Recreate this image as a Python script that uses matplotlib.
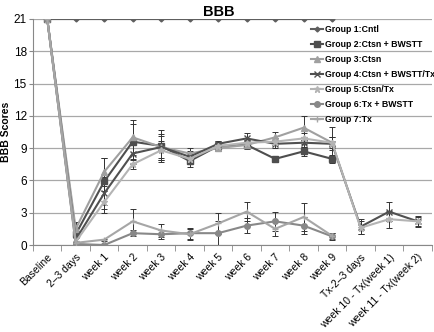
import numpy as np
import matplotlib
matplotlib.use("Agg")
import matplotlib.pyplot as plt

plt.rcParams['font.family'] = ['Liberation Sans', 'DejaVu Sans']

nan = np.nan
categories = ["Baseline", "2\u20133 days", "week 1", "week 2", "week 3", "week 4", "week 5",
              "week 6", "week 7", "week 8", "week 9", "Tx-2\u20133 days",
              "week 10 - Tx(week 1)", "week 11 - Tx(week 2)"]

g1 = [21, 21, 21, 21, 21, 21, 21, 21, 21, 21, 21, nan, nan, nan]
g2 = [21, 1.0, 5.9, 9.6, 9.2, 7.8, 9.2, 9.3, 8.0, 8.7, 8.0, nan, nan, nan]
g3 = [21, 1.5, 6.8, 10.0, 9.1, 8.5, 9.0, 9.3, 10.0, 10.9, 9.5, nan, nan, nan]
g4 = [21, 0.5, 4.8, 8.5, 9.1, 8.2, 9.4, 9.9, 9.4, 9.5, 9.4, 1.7, 3.1, 2.2]
g5 = [21, 0.3, 4.0, 7.5, 8.8, 8.0, 9.2, 9.5, 9.6, 9.9, 9.5, 1.6, 2.4, 2.2]
g6 = [21, 0.1, 0.0, 1.1, 1.0, 1.1, 1.1, 1.8, 2.2, 1.8, 0.8, nan, nan, nan]
g7 = [21, 0.2, 0.5, 2.2, 1.35, 1.0, 2.0, 3.1, 1.5, 2.6, 0.85, nan, nan, nan]

e1 = [0] * 14
e2 = [0, 0.6, 2.2, 1.6, 1.5, 0.6, 0.4, 0.3, 0.3, 0.4, 0.4, 0, 0, 0]
e3 = [0, 0.6, 1.3, 1.6, 1.2, 0.5, 0.3, 0.4, 0.5, 1.1, 0.5, 0, 0, 0]
e4 = [0, 0.5, 1.5, 1.0, 1.0, 0.5, 0.3, 0.5, 0.4, 0.4, 0.6, 0.7, 0.9, 0.5]
e5 = [0, 0.4, 1.0, 0.4, 0.9, 0.4, 0.3, 0.3, 0.3, 0.5, 1.5, 0.6, 0.8, 0.4]
e6 = [0, 0.1, 0.0, 0.3, 0.4, 0.5, 1.1, 0.7, 0.9, 0.8, 0.3, 0, 0, 0]
e7 = [0, 0.1, 0.1, 1.1, 0.6, 0.5, 1.0, 0.9, 0.7, 1.3, 0.3, 0, 0, 0]

labels = ["Group 1:Cntl", "Group 2:Ctsn + BWSTT", "Group 3:Ctsn",
          "Group 4:Ctsn + BWSTT/Tx", "Group 5:Ctsn/Tx", "Group 6:Tx + BWSTT", "Group 7:Tx"]

series = [g1, g2, g3, g4, g5, g6, g7]
errs = [e1, e2, e3, e4, e5, e6, e7]
colors = ["#5e5e5e", "#4e4e4e", "#a0a0a0", "#505050", "#b4b4b4", "#888888", "#a6a6a6"]
markers = ["D", "s", "^", "x", "*", "o", "+"]
msizes = [2.5, 4, 4, 4, 4.5, 4, 5]

fig = plt.figure(figsize=(4.34, 3.32), dpi=100)
ax = fig.add_axes([0.076, 0.262, 0.919, 0.681])

x = np.arange(len(categories))
for y, e, c, m, ms, lab in zip(series, errs, colors, markers, msizes, labels):
    y = np.array(y, dtype=float)
    e = np.array(e, dtype=float)
    ax.errorbar(x, y, yerr=np.where(e > 0, e, np.nan), fmt='none', ecolor="#333333",
                elinewidth=0.7, capsize=2, capthick=0.7, zorder=2)
    ax.plot(x, y, color=c, marker=m, markersize=ms, linewidth=1.5, label=lab,
            markeredgecolor=c, zorder=3)

ax.set_xlim(-0.5, len(categories) - 0.5)
ax.set_ylim(0, 21)
ax.set_yticks(np.arange(0, 22, 3))
ax.yaxis.grid(True, color="#a8a8a8", linewidth=0.9)
ax.set_axisbelow(True)
ax.set_xticks(x)
ax.set_xticklabels(categories, rotation=45, ha="right", rotation_mode="anchor", fontsize=7.5)
ax.set_xticks(np.arange(-0.5, len(categories), 1), minor=True)
ax.tick_params(axis='x', which='major', length=0, pad=5)
ax.tick_params(axis='x', which='minor', length=4, color="#888888")
ax.tick_params(axis='y', labelsize=8.5, length=3, color="#888888", pad=1.5)
for s in ["top", "right"]:
    ax.spines[s].set_visible(False)
ax.spines["left"].set_color("#888888")
ax.spines["bottom"].set_color("#888888")
ax.set_ylabel("BBB Scores", fontsize=7.5, fontweight="bold", labelpad=2)
fig.text(0.503, 0.965, "BBB", ha="center", va="center", fontsize=10.5, fontweight="bold")

leg = ax.legend(loc="upper left", bbox_to_anchor=(0.708, 0.935), bbox_transform=fig.transFigure,
                frameon=False, fontsize=6.3, handlelength=1.4, labelspacing=0.68,
                handletextpad=0.2, borderaxespad=0)
for t in leg.get_texts():
    t.set_fontweight("bold")

fig.savefig("out.png", dpi=100)
